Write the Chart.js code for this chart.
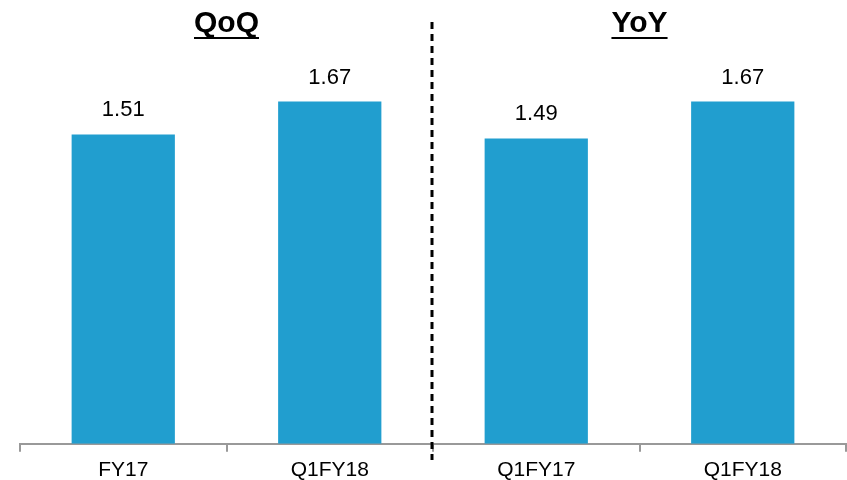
<!DOCTYPE html>
<html>
<head>
<meta charset="utf-8">
<script src="https://cdn.jsdelivr.net/npm/chart.js@4/dist/chart.umd.min.js"></script>
<style>
  html, body { margin: 0; padding: 0; background: #fff; }
  #wrap { width: 847px; height: 480px; position: relative; }
</style>
</head>
<body>
<div id="wrap"><canvas id="c" width="847" height="480"></canvas></div>
<script>
// Quarter labels along the x axis
const categories = ['FY17', 'Q1FY18', 'Q1FY17', 'Q1FY18'];
// Values for each bar
const values = [1.51, 1.67, 1.49, 1.67];
// Section headings and the category index range each one spans
const sectionTitles = ['QoQ', 'YoY'];
const sectionRanges = [[0, 1], [2, 3]];

const FONT = '"Liberation Sans", Arial, Helvetica, sans-serif';
const BAR_COLOR = '#219ecf';

const overlay = {
  id: 'overlay',
  afterDatasetsDraw(chart) {
    const ctx = chart.ctx;
    const x = chart.scales.x;
    const meta = chart.getDatasetMeta(0);

    // Value labels above each bar
    ctx.save();
    ctx.fillStyle = '#000';
    ctx.font = '22px ' + FONT;
    ctx.textAlign = 'center';
    ctx.textBaseline = 'alphabetic';
    meta.data.forEach((bar, i) => {
      ctx.fillText(values[i].toFixed(2), bar.x, bar.y - 18);
    });
    ctx.restore();

    // Dashed divider between the two sections
    const divX = (x.getPixelForValue(1) + x.getPixelForValue(2)) / 2 - 1;
    ctx.save();
    ctx.strokeStyle = '#000';
    ctx.lineWidth = 3;
    ctx.setLineDash([7, 5]);
    ctx.beginPath();
    ctx.moveTo(divX, 22);
    ctx.lineTo(divX, 460);
    ctx.stroke();
    ctx.restore();

    // Underlined section headings
    ctx.save();
    ctx.fillStyle = '#000';
    ctx.strokeStyle = '#000';
    ctx.font = 'bold 30px ' + FONT;
    ctx.textAlign = 'center';
    ctx.textBaseline = 'alphabetic';
    sectionTitles.forEach((t, k) => {
      const [a, b] = sectionRanges[k];
      const cx = (x.getPixelForValue(a) + x.getPixelForValue(b)) / 2;
      const baseY = 32;
      ctx.fillText(t, cx, baseY);
      const w = ctx.measureText(t).width;
      ctx.lineWidth = 2;
      ctx.beginPath();
      ctx.moveTo(cx - w / 2, baseY + 6);
      ctx.lineTo(cx + w / 2, baseY + 6);
      ctx.stroke();
    });
    ctx.restore();
  }
};

new Chart(document.getElementById('c'), {
  type: 'bar',
  data: {
    labels: categories,
    datasets: [{
      data: values,
      backgroundColor: BAR_COLOR,
      borderWidth: 0,
      barPercentage: 0.5,
      categoryPercentage: 1.0
    }]
  },
  options: {
    responsive: false,
    animation: false,
    devicePixelRatio: 1,
    layout: { padding: { left: 20, right: 1, top: 34, bottom: -9 } },
    plugins: { legend: { display: false }, tooltip: { enabled: false } },
    scales: {
      x: {
        offset: true,
        grid: {
          display: true,
          offset: true,
          drawOnChartArea: false,
          drawTicks: true,
          tickLength: 8,
          color: '#999',
          lineWidth: 2
        },
        border: { display: true, color: '#999', width: 2 },
        ticks: {
          color: '#000',
          font: { family: FONT, size: 21 },
          padding: 6
        }
      },
      y: {
        display: false,
        min: 0,
        max: 2
      }
    }
  },
  plugins: [overlay]
});
</script>
</body>
</html>
